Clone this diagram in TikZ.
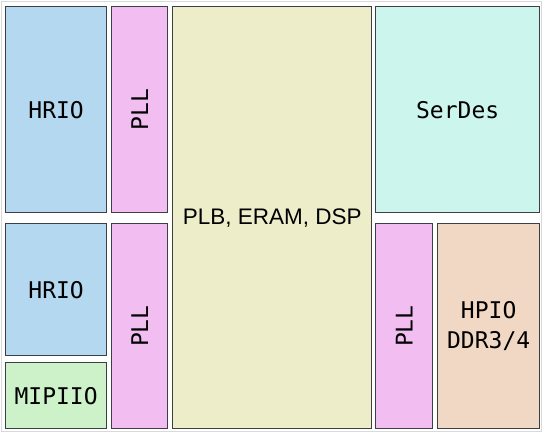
\documentclass[tikz,border=0pt]{standalone}
\usepackage{fontspec}
\usepackage{tikz}
\newfontfamily\blkfont{DejaVu Sans Mono}
\newfontfamily\corefont{Liberation Sans}
\definecolor{HrioBlue}{RGB}{180,216,240}
\definecolor{PllPink}{RGB}{242,190,242}
\definecolor{CoreBeige}{RGB}{237,237,202}
\definecolor{SerdesCyan}{RGB}{204,245,238}
\definecolor{MipiGreen}{RGB}{205,242,202}
\definecolor{HpioPeach}{RGB}{241,216,196}
\definecolor{EdgeGray}{RGB}{60,64,68}

\begin{document}
\begin{tikzpicture}[x=1pt,y=-1pt,
    blk/.style={draw=EdgeGray,line width=1.3pt,anchor=north west,inner sep=0pt,
      font=\blkfont\fontsize{23}{30}\selectfont,align=center},
    pll/.style={blk,fill=PllPink,minimum width=56pt}]
      \useasboundingbox (0,0) rectangle (545,434);
      \draw[black!15,line width=0.8pt] (1,1) rectangle (541,431);
      % left column
      \node[blk,fill=HrioBlue,minimum width=101pt,minimum height=206pt] (hrioA) at (5,6) {HRIO};
      \node[blk,fill=HrioBlue,minimum width=101pt,minimum height=132pt] (hrioB) at (5,223) {HRIO};
      \node[blk,fill=MipiGreen,minimum width=101pt,minimum height=66pt] (mipi) at (5,362) {MIPIIO};
      \node[pll,minimum height=206pt] (pllA) at (111,6) {};
      \node[pll,minimum height=205pt] (pllB) at (111,223) {};
      \node[rotate=90,font=\blkfont\fontsize{23}{30}\selectfont] at (pllA.center) {PLL};
      \node[rotate=90,font=\blkfont\fontsize{23}{30}\selectfont] at (pllB.center) {PLL};
      % fabric
      \node[blk,fill=CoreBeige,minimum width=199pt,minimum height=422pt,
        font=\corefont\fontsize{22.5}{25}\selectfont] (core) at (172,6) {PLB, ERAM, DSP};
      % right column
      \node[blk,fill=SerdesCyan,minimum width=164pt,minimum height=206pt] (serdes) at (375,6) {SerDes};
      \node[pll,minimum width=57pt,minimum height=205pt] (pllC) at (375,223) {};
      \node[rotate=90,font=\blkfont\fontsize{23}{30}\selectfont] at (pllC.center) {PLL};
      \node[blk,fill=HpioPeach,minimum width=102pt,minimum height=205pt] (hpio) at (437,223) {HPIO\\DDR3/4};
    \end{tikzpicture}
\end{document}
